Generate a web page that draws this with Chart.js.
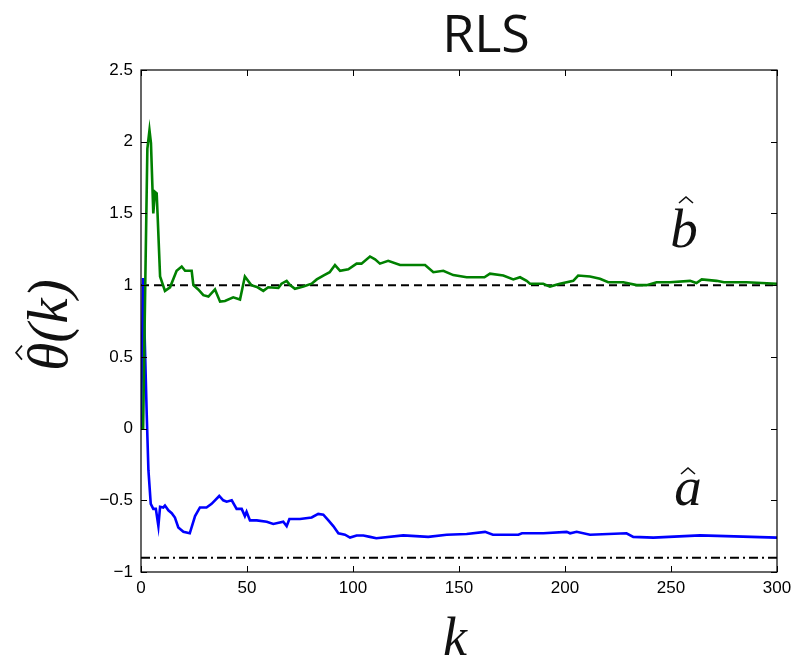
<!DOCTYPE html>
<html>
<head>
<meta charset="utf-8">
<script src="https://cdn.jsdelivr.net/npm/chart.js@4/dist/chart.umd.min.js"></script>
<style>
html,body{margin:0;padding:0;background:#fff;}
#wrap{width:798px;height:661px;}
</style>
</head>
<body>
<div id="wrap"><canvas id="c" width="798" height="661"></canvas></div>
<script>
// ---- data ----
const kB = [0,1,2,3,4,4.7,5.8,6.6,7.4,7.8,9,11.3,13.7,16.8,19.2,20.8,23.9,24.7,27,29.4,31.8,34.9,37.3,39.6,43.5,46.7,49,52,55,57.7,60,64.8,66.3,68.7,70.3,72.6,76.6,80.5,82.9,86,89,91.5,93.9,97.8,101.7,104,108,110.4,112.7,116.6,122.2,134,137.9,142.6,147.3,153.6,162,164.6,170.9,175.6,178.8,181.9,183.5,189.7,192.9,197.6,203.9,206.2,211.8,216.5,220.4,227.5,233.8,238.5,243.2,249.5,259,262,264.5,271.5,275,285.7,300];
const bHat = [0,0,1.0,1.95,2.08,1.99,1.5,1.65,1.64,1.5,1.06,0.96,0.985,1.10,1.13,1.10,1.10,1.0,0.97,0.93,0.92,0.97,0.885,0.89,0.915,0.90,1.06,1.0,0.985,0.96,0.985,0.98,1.01,1.03,1.0,0.975,0.99,1.01,1.04,1.067,1.09,1.14,1.10,1.11,1.15,1.15,1.2,1.18,1.15,1.17,1.14,1.14,1.09,1.10,1.07,1.055,1.055,1.08,1.067,1.04,1.055,1.03,1.01,1.01,0.99,1.01,1.03,1.067,1.06,1.045,1.02,1.02,1.0,1.0,1.02,1.02,1.03,1.015,1.04,1.03,1.02,1.02,1.01];
const kA = [0,1,2.7,3.5,4.6,5.8,7,8.2,9,10.5,11.3,12.9,14.5,16,17.6,20,23,25.5,27.8,30.9,33.3,34.9,36.9,38.8,40.4,42.8,45.1,47.5,49,49.8,51.4,54.6,59.3,62.4,67.1,68.7,70,75,80.5,83.6,86,88.4,90.7,93.1,96.2,98.6,101.7,104.9,108,111,123.7,135.5,144.2,153.6,162.3,166,178,179.7,189.8,200.8,202.4,205.5,211.8,229,232.2,241.7,263.7,300];
const aHat = [0,1.05,0.1,-0.29,-0.525,-0.56,-0.56,-0.68,-0.545,-0.55,-0.537,-0.57,-0.59,-0.62,-0.69,-0.72,-0.73,-0.61,-0.55,-0.55,-0.525,-0.50,-0.47,-0.50,-0.51,-0.50,-0.56,-0.56,-0.61,-0.58,-0.64,-0.64,-0.65,-0.665,-0.65,-0.68,-0.63,-0.63,-0.62,-0.595,-0.60,-0.64,-0.68,-0.73,-0.74,-0.76,-0.745,-0.745,-0.755,-0.765,-0.745,-0.755,-0.74,-0.735,-0.72,-0.74,-0.74,-0.73,-0.73,-0.72,-0.73,-0.72,-0.74,-0.73,-0.755,-0.76,-0.745,-0.76];
const kRange = [0, 300];
const bTrue = [1, 1];
const aTrue = [-0.9, -0.9];
const xTicks = [0,50,100,150,200,250,300];
const yTicks = [-1,-0.5,0,0.5,1,1.5,2,2.5];
const titleText = "RLS";

const pts = (xs, ys) => xs.map((x,i)=>({x:x, y:ys[i]}));

const overlay = {
  id:'overlay',
  afterDraw(chart){
    const {ctx, chartArea:a, scales:{x, y}} = chart;
    ctx.save();
    // box
    ctx.strokeStyle = '#000'; ctx.lineWidth = 1.2;
    ctx.strokeRect(a.left, a.top, a.right-a.left, a.bottom-a.top);
    // inward ticks
    ctx.lineWidth = 1;
    const tl = 6;
    xTicks.forEach(v=>{
      const px = Math.round(x.getPixelForValue(v))+0.5;
      ctx.beginPath(); ctx.moveTo(px,a.bottom); ctx.lineTo(px,a.bottom-tl);
      ctx.moveTo(px,a.top); ctx.lineTo(px,a.top+tl); ctx.stroke();
    });
    yTicks.forEach(v=>{
      const py = Math.round(y.getPixelForValue(v))+0.5;
      ctx.beginPath(); ctx.moveTo(a.left,py); ctx.lineTo(a.left+tl,py);
      ctx.moveTo(a.right,py); ctx.lineTo(a.right-tl,py); ctx.stroke();
    });
    // title
    ctx.fillStyle = '#111';
    ctx.font = '52px "Open Sans"';
    ctx.textAlign = 'center'; ctx.textBaseline = 'alphabetic';
    ctx.fillText(titleText, 486, 52);
    // x label
    ctx.font = 'italic 54px "Liberation Serif"';
    ctx.fillText('k', 455, 655);
    // y label rotated
    ctx.save();
    ctx.translate(67, 325);
    ctx.rotate(-Math.PI/2);
    ctx.textAlign = 'center';
    ctx.font = 'italic 57px "Liberation Serif"';
    ctx.fillText('\u03B8(k)', 0, 0);
    // hat over theta
    const tw = ctx.measureText('\u03B8(k)').width;
    const thw = ctx.measureText('\u03B8').width;
    const hx = -tw/2 + thw/2 + 4;
    ctx.lineWidth = 1.6; ctx.strokeStyle = '#111';
    ctx.beginPath(); ctx.moveTo(hx-7, -45); ctx.lineTo(hx, -51); ctx.lineTo(hx+7, -45); ctx.stroke();
    ctx.restore();
    // annotations
    ctx.font = 'italic 55px "Liberation Serif"';
    ctx.textAlign = 'center';
    ctx.fillText('b', 684, 247);
    ctx.fillText('a', 688, 505);
    ctx.lineWidth = 1.6; ctx.strokeStyle = '#111';
    ctx.beginPath(); ctx.moveTo(679, 203); ctx.lineTo(686, 197); ctx.lineTo(693, 203); ctx.stroke();
    ctx.beginPath(); ctx.moveTo(681, 474); ctx.lineTo(688, 468); ctx.lineTo(695, 474); ctx.stroke();
    ctx.restore();
  }
};

new Chart(document.getElementById('c'), {
  type: 'scatter',
  data: {
    datasets: [
      {data: pts(kRange, bTrue), borderColor:'#000', borderWidth:2, borderDash:[8,5], showLine:true, pointRadius:0, order:3},
      {data: pts(kRange, aTrue), borderColor:'#000', borderWidth:2, borderDash:[9,4,2,4], showLine:true, pointRadius:0, order:3},
      {data: pts(kB, bHat), borderColor:'#008000', borderWidth:2.6, showLine:true, pointRadius:0, tension:0, order:1},
      {data: pts(kA, aHat), borderColor:'#0000ff', borderWidth:2.6, showLine:true, pointRadius:0, tension:0, order:2}
    ]
  },
  options: {
    responsive:false, animation:false,
    layout:{padding:{left:0, right:21, top:70, bottom:0}},
    plugins:{legend:{display:false}, tooltip:{enabled:false}, title:{display:false}},
    scales:{
      x:{type:'linear', min:0, max:300,
         afterBuildTicks(s){ s.ticks = xTicks.map(v=>({value:v})); },
         afterFit(s){ s.height = 89; },
         grid:{display:false, drawTicks:false}, border:{display:false},
         ticks:{padding:6, color:'#000', font:{family:'"Liberation Sans"', size:17}, maxRotation:0}},
      y:{type:'linear', min:-1, max:2.5,
         afterBuildTicks(s){ s.ticks = yTicks.map(v=>({value:v})); },
         afterFit(s){ s.width = 141; },
         grid:{display:false, drawTicks:false}, border:{display:false},
         ticks:{padding:8, color:'#000', font:{family:'"Liberation Sans"', size:17},
                callback:(v)=>String(v).replace('-', '\u2212')}}
    }
  },
  plugins:[overlay]
});
</script>
</body>
</html>
